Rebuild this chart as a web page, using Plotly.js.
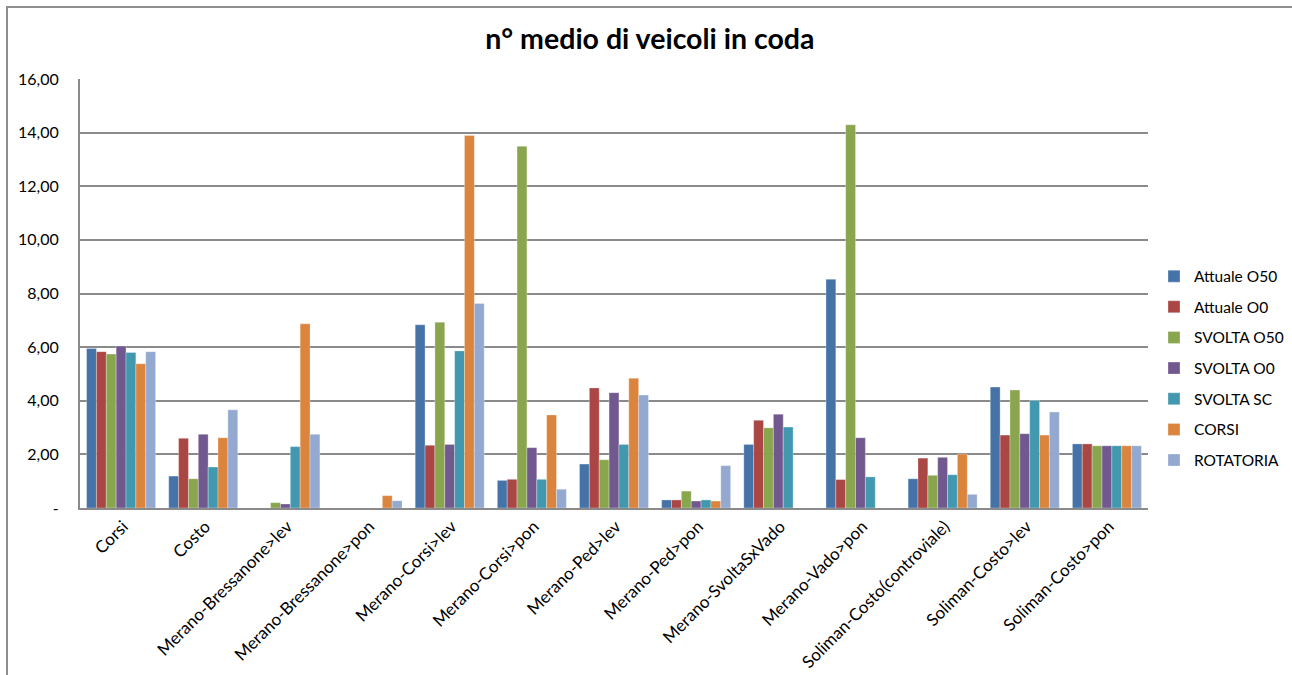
<!DOCTYPE html>
<html>
<head>
<meta charset="utf-8">
<script src="https://cdn.plot.ly/plotly-3.0.1.min.js"></script>
<style>
  html, body { margin: 0; padding: 0; background: #fff; overflow: hidden; }
  #chart { width: 1292px; height: 675px; }
  #frame { position: absolute; left: 6px; top: 6px; width: 1400px; height: 800px;
           border: 2px solid #8e8e8e; pointer-events: none; }
</style>
</head>
<body>
<div id="chart"></div>
<div id="frame"></div>
<script>
const categories = [
  "Corsi", "Costo", "Merano-Bressanone>lev", "Merano-Bressanone>pon",
  "Merano-Corsi>lev", "Merano-Corsi>pon", "Merano-Ped>lev", "Merano-Ped>pon",
  "Merano-SvoltaSxVado", "Merano-Vado>pon", "Soliman-Costo(controviale)",
  "Soliman-Costo>lev", "Soliman-Costo>pon"
];
const seriesNames = ["Attuale O50", "Attuale O0", "SVOLTA O50", "SVOLTA O0", "SVOLTA SC", "CORSI", "ROTATORIA"];
const attualeO50 = [5.95, 1.19, 0,    0,    6.83, 1.03, 1.64, 0.30, 2.37, 8.53, 1.09, 4.51, 2.39];
const attualeO0  = [5.83, 2.60, 0,    0,    2.34, 1.07, 4.48, 0.30, 3.27, 1.06, 1.86, 2.72, 2.39];
const svoltaO50  = [5.74, 1.09, 0.20, 0,    6.93, 13.49, 1.80, 0.63, 2.99, 14.29, 1.22, 4.40, 2.32];
const svoltaO0   = [6.04, 2.75, 0.15, 0,    2.37, 2.25, 4.30, 0.26, 3.50, 2.62, 1.89, 2.77, 2.32];
const svoltaSC   = [5.80, 1.53, 2.29, 0,    5.86, 1.07, 2.37, 0.30, 3.02, 1.16, 1.24, 4.01, 2.32];
const corsi      = [5.38, 2.62, 6.87, 0.46, 13.89, 3.47, 4.84, 0.26, 0,   0,    2.01, 2.72, 2.32];
const rotatoria  = [5.83, 3.66, 2.75, 0.27, 7.63, 0.70, 4.21, 1.58, 0,    0,    0.51, 3.58, 2.32];
const yTickVals = [0, 2, 4, 6, 8, 10, 12, 14, 16];
const yTickText = ["-", "2,00", "4,00", "6,00", "8,00", "10,00", "12,00", "14,00", "16,00"];

const colors = ["#4572A7", "#AA4643", "#89A54E", "#71588F", "#4198AF", "#DB843D", "#93A9CF"];
const seriesValues = [attualeO50, attualeO0, svoltaO50, svoltaO0, svoltaSC, corsi, rotatoria];

const FONT = "Lato, 'Noto Sans', sans-serif";
const traces = seriesValues.map((vals, i) => ({
  type: "bar",
  name: seriesNames[i],
  x: categories,
  y: vals,
  legendgroup: "g" + i,
  marker: { color: colors[i], line: { color: "rgba(255,255,255,0.6)", width: 0.5 } },
  hoverinfo: "x+y+name"
}));

const layout = {
  width: 1292,
  height: 675,
  margin: { l: 80, r: 144, t: 79, b: 167, autoexpand: false },
  paper_bgcolor: "#ffffff",
  plot_bgcolor: "#ffffff",
  barmode: "group",
  bargap: 0.16,
  bargroupgap: 0,
  title: {
    text: "<b>n° medio di veicoli in coda</b>",
    font: { family: FONT, size: 28.5, color: "#000" },
    x: 0.503, xanchor: "center", xref: "container",
    y: 42, yref: "container", yanchor: "middle"
  },
  font: { family: FONT, color: "#000" },
  xaxis: {
    type: "category",
    range: [-0.5, 12.5],
    tickangle: -45,
    tickfont: { family: FONT, size: 17, color: "#000" },
    ticklabelshift: 2,
    showline: true, linecolor: "#8a8a8a", linewidth: 2,
    showgrid: false, ticks: "", zeroline: false,
    automargin: false
  },
  yaxis: {
    range: [0, 16],
    tickmode: "array",
    tickvals: yTickVals,
    ticktext: yTickText,
    tickfont: { family: FONT, size: 16, color: "#000" },
    ticklabelstandoff: 16,
    showline: true, linecolor: "#8a8a8a", linewidth: 2,
    showgrid: true, gridcolor: "#8a8a8a", gridwidth: 2,
    zeroline: false, ticks: "",
    automargin: false
  },
  legend: {
    x: 1154 / 1292, xanchor: "left", xref: "container",
    y: 0.325, yanchor: "middle",
    font: { family: FONT, size: 15.5, color: "#000" },
    traceorder: "grouped",
    tracegroupgap: 7.5,
    itemwidth: 30,
    bgcolor: "rgba(0,0,0,0)"
  },
  showlegend: true
};

Plotly.newPlot("chart", traces, layout, { displayModeBar: false, staticPlot: true });
</script>
</body>
</html>
